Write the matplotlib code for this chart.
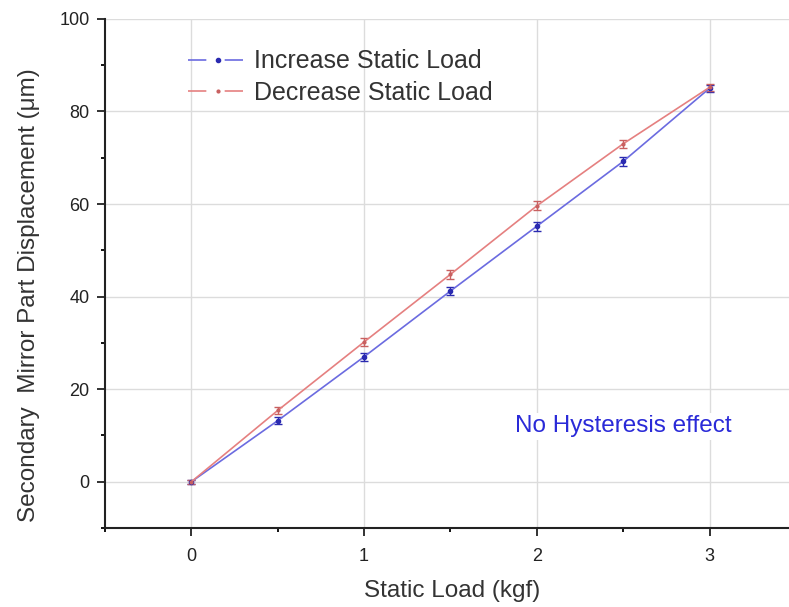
import numpy as np
import matplotlib.pyplot as plt
from matplotlib.ticker import MultipleLocator
from matplotlib.lines import Line2D

plt.rcParams['font.family'] = ['Liberation Sans', 'DejaVu Sans']

load = [0, 0.5, 1, 1.5, 2, 2.5, 3]                      # kgf
inc_disp = [0, 13.2, 27.0, 41.2, 55.2, 69.2, 85.0]      # um
dec_disp = [0, 15.4, 30.2, 44.8, 59.6, 73.0, 85.2]
inc_err = [0.4, 0.7, 0.9, 0.8, 1.0, 0.9, 0.8]
dec_err = [0.4, 0.8, 0.9, 0.9, 1.0, 0.9, 0.8]

blue_line, blue_pt = '#6b6be0', '#2a2ab0'
red_line, red_pt = '#e58080', '#c86060'

fig = plt.figure(figsize=(7.89, 6.07), dpi=100)
ax = fig.add_axes([0.133, 0.130, 0.867, 0.839])

ax.errorbar(load, inc_disp, yerr=inc_err, color=blue_line, lw=1.2, marker='o', ms=3,
            mfc=blue_pt, mec=blue_pt, ecolor=blue_pt, elinewidth=1, capsize=3, zorder=3)
ax.errorbar(load, dec_disp, yerr=dec_err, color=red_line, lw=1.2, marker='o', ms=2,
            mfc=red_pt, mec=red_pt, ecolor=red_pt, elinewidth=1, capsize=3, zorder=3)

ax.set_xlim(-0.5, 3.46)
ax.set_ylim(-10, 100)
ax.set_xticks([0, 1, 2, 3])
ax.set_yticks([0, 20, 40, 60, 80, 100])
ax.xaxis.set_minor_locator(MultipleLocator(0.5))
ax.yaxis.set_minor_locator(MultipleLocator(10))
ax.tick_params(which='major', direction='out', length=6, width=1.3, labelsize=13, colors='#222222')
ax.tick_params(axis='x', which='major', pad=8)
ax.tick_params(axis='y', which='major', pad=5)
ax.tick_params(which='minor', direction='out', length=3, width=1.3)
ax.grid(True, which='major', color='#dcdcdc', lw=1)
ax.set_axisbelow(True)
for s in ['top', 'right']:
    ax.spines[s].set_visible(False)
for s in ['left', 'bottom']:
    ax.spines[s].set_linewidth(1.5)
    ax.spines[s].set_color('#222222')

ax.set_xlabel('Static Load (kgf)', fontsize=17.5, color='#333333')
ax.xaxis.set_label_coords(0.507, -0.102)
ax.set_ylabel('Secondary  Mirror Part Displacement (\u03bcm)', fontsize=17.5, color='#333333')
ax.yaxis.set_label_coords(-0.095, 0.458)

ax.text(2.5, 12, 'No Hysteresis effect', color='#2a2ad8', fontsize=17.5, ha='center', va='center',
        bbox=dict(facecolor='white', edgecolor='none', pad=2), zorder=4)

handles = [Line2D([], [], color=blue_line, lw=1.2, dashes=(11, 11, 11, 100), marker='o', ms=3,
                  mfc=blue_pt, mec=blue_pt),
           Line2D([], [], color=red_line, lw=1.2, dashes=(11, 11, 11, 100), marker='o', ms=2,
                  mfc=red_pt, mec=red_pt)]
leg = ax.legend(handles, ['Increase Static Load', 'Decrease Static Load'], loc='upper left',
                bbox_to_anchor=(0.121, 0.94), frameon=False, fontsize=18, borderpad=0,
                borderaxespad=0, handlelength=2.4, handletextpad=0.25, labelspacing=0.3)
for t in leg.get_texts():
    t.set_color('#333333')

fig.savefig('out.png', dpi=100)
